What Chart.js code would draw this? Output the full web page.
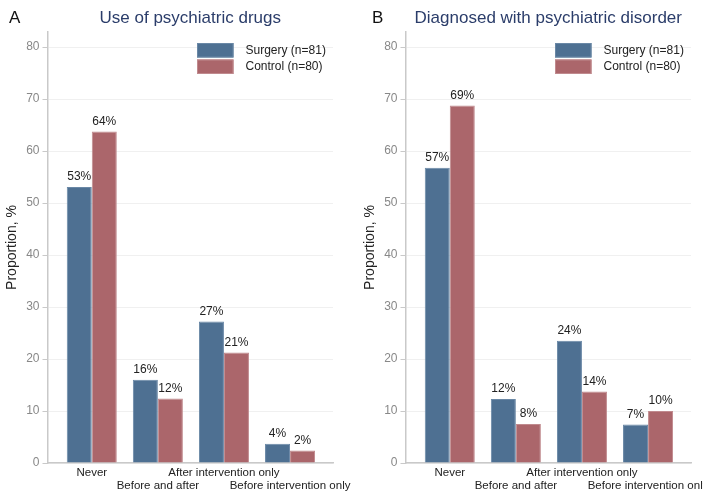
<!DOCTYPE html>
<html>
<head>
<meta charset="utf-8">
<script src="https://cdn.jsdelivr.net/npm/chart.js@4.4.1/dist/chart.umd.min.js"></script>
<style>
  html, body { margin: 0; padding: 0; background: #ffffff; }
  #wrap { position: relative; width: 703px; height: 491px; overflow: hidden; }
  .panel { position: absolute; top: 0; height: 491px; }
  #panelA { left: 0; width: 358px; }
  #panelB { left: 358px; width: 345px; }
</style>
</head>
<body>
<div id="wrap">
  <div class="panel" id="panelA"><canvas id="chartA" width="358" height="491"></canvas></div>
  <div class="panel" id="panelB"><canvas id="chartB" width="345" height="491"></canvas></div>
</div>
<script>
// Outcome categories (x axis)
const categories = ['Never', 'Before and after', 'After intervention only', 'Before intervention only'];

// Panel A: use of psychiatric drugs, % of each group
const drugsSurgery = [53.1, 16.0, 27.2, 3.7];   // n=81
const drugsControl = [63.75, 12.4, 21.25, 2.4]; // n=80

// Panel B: diagnosed with psychiatric disorder, % of each group
const diagSurgery = [56.8, 12.3, 23.5, 7.4];    // n=81
const diagControl = [68.75, 7.5, 13.75, 10.0];  // n=80

// Y axis tick values
const yTicks = [0, 10, 20, 30, 40, 50, 60, 70, 80];

const seriesNames = ['Surgery (n=81)', 'Control (n=80)'];
const COL_SURG = '#4e7092';
const COL_CTRL = '#ab666b';
const FONT = '"Liberation Sans", Arial, Helvetica, sans-serif';

// Value labels ("53%") above each bar
const valueLabels = {
  id: 'valueLabels',
  afterDatasetsDraw(chart) {
    const ctx = chart.ctx;
    ctx.save();
    ctx.font = '12px ' + FONT;
    ctx.fillStyle = '#222222';
    ctx.textAlign = 'center';
    ctx.textBaseline = 'alphabetic';
    chart.data.datasets.forEach((ds, di) => {
      const meta = chart.getDatasetMeta(di);
      meta.data.forEach((bar, i) => {
        const v = ds.data[i].y;
        ctx.fillText(Math.round(v) + '%', bar.x, bar.y - 7);
      });
    });
    ctx.restore();
  }
};

// Legend box inside the plot, top right
const innerLegend = {
  id: 'innerLegend',
  afterDraw(chart) {
    const ctx = chart.ctx;
    const area = chart.chartArea;
    const x0 = area.left + 149.5;
    const y0 = 43;
    ctx.save();
    chart.data.datasets.forEach((ds, di) => {
      const y = y0 + di * 16.5;
      ctx.fillStyle = ds.backgroundColor;
      ctx.fillRect(x0, y, 36.5, 14.5);
      ctx.strokeStyle = ds.borderColor;
      ctx.lineWidth = 1;
      ctx.strokeRect(x0 + 0.5, y + 0.5, 35.5, 13.5);
      ctx.fillStyle = '#222222';
      ctx.font = '12px ' + FONT;
      ctx.textAlign = 'left';
      ctx.textBaseline = 'middle';
      ctx.fillText(ds.label, x0 + 48.5, y + 7.5);
    });
    ctx.restore();
  }
};

// Panel letter ("A", "B") in the top-left corner
const panelLetter = {
  id: 'panelLetter',
  afterDraw(chart, args, opts) {
    const ctx = chart.ctx;
    ctx.save();
    ctx.font = '17px ' + FONT;
    ctx.fillStyle = '#111111';
    ctx.textAlign = 'left';
    ctx.textBaseline = 'middle';
    ctx.fillText(opts.text, opts.x, 18);
    ctx.restore();
  }
};

function makeChart(canvasId, titleText, letter, letterX, surgery, control, padRight) {
  const toPoints = arr => arr.map((v, i) => ({ x: i, y: v }));
  return new Chart(document.getElementById(canvasId), {
    type: 'bar',
    data: {
      datasets: [
        {
          label: seriesNames[0],
          data: toPoints(surgery),
          backgroundColor: COL_SURG,
          borderColor: '#6a88a6',
          borderWidth: 1
        },
        {
          label: seriesNames[1],
          data: toPoints(control),
          backgroundColor: COL_CTRL,
          borderColor: '#c08a8e',
          borderWidth: 1
        }
      ]
    },
    options: {
      responsive: false,
      animation: false,
      events: [],
      categoryPercentage: 0.757,
      barPercentage: 1.0,
      layout: { padding: { left: 0, right: padRight, top: 0, bottom: 0 } },
      plugins: {
        legend: { display: false },
        tooltip: { enabled: false },
        title: {
          display: true,
          text: titleText,
          fullSize: false,
          color: '#2b3d6a',
          font: { family: FONT, size: 17, weight: 'normal' },
          padding: { top: 8, bottom: 3.6 }
        },
        panelLetter: { text: letter, x: letterX }
      },
      scales: {
        x: {
          type: 'linear',
          min: -0.67,
          max: 3.65,
          offset: false,
          grid: { display: false, drawTicks: false },
          border: { display: true, color: '#c9c9c9', width: 1.5 },
          ticks: {
            autoSkip: false,
            maxRotation: 0,
            minRotation: 0,
            padding: 4,
            color: '#222222',
            font: { family: FONT, size: 11.5, lineHeight: 1.1 },
            callback: (v) => {
              const name = categories[v];
              if (name === undefined) return '';
              return (v % 2 === 0) ? [name, ''] : ['', name];
            }
          },
          afterBuildTicks: (scale) => {
            scale.ticks = categories.map((c, i) => ({ value: i }));
          },
          afterFit: (scale) => {
            scale.height = 28;
            scale.paddingLeft = 0;
            scale.paddingRight = 0;
          }
        },
        y: {
          min: 0,
          max: 82.9,
          grid: {
            color: '#f0f0f0',
            lineWidth: 1,
            drawTicks: true,
            tickLength: 5,
            tickColor: '#c9c9c9'
          },
          border: { display: true, color: '#c9c9c9', width: 1.5 },
          ticks: {
            stepSize: 10,
            padding: 3,
            color: '#888888',
            font: { family: FONT, size: 12 }
          },
          afterBuildTicks: (scale) => {
            scale.ticks = yTicks.map(v => ({ value: v }));
          },
          afterFit: (scale) => {
            scale.width = 47.5;
          },
          title: {
            display: true,
            text: 'Proportion, %',
            color: '#222222',
            font: { family: FONT, size: 14 },
            padding: { top: 4, bottom: 0 }
          }
        }
      }
    },
    plugins: [valueLabels, innerLegend, panelLetter]
  });
}

makeChart('chartA', 'Use of psychiatric drugs', 'A', 9, drugsSurgery, drugsControl, 25);
makeChart('chartB', 'Diagnosed with psychiatric disorder', 'B', 14, diagSurgery, diagControl, 12);
</script>
</body>
</html>
